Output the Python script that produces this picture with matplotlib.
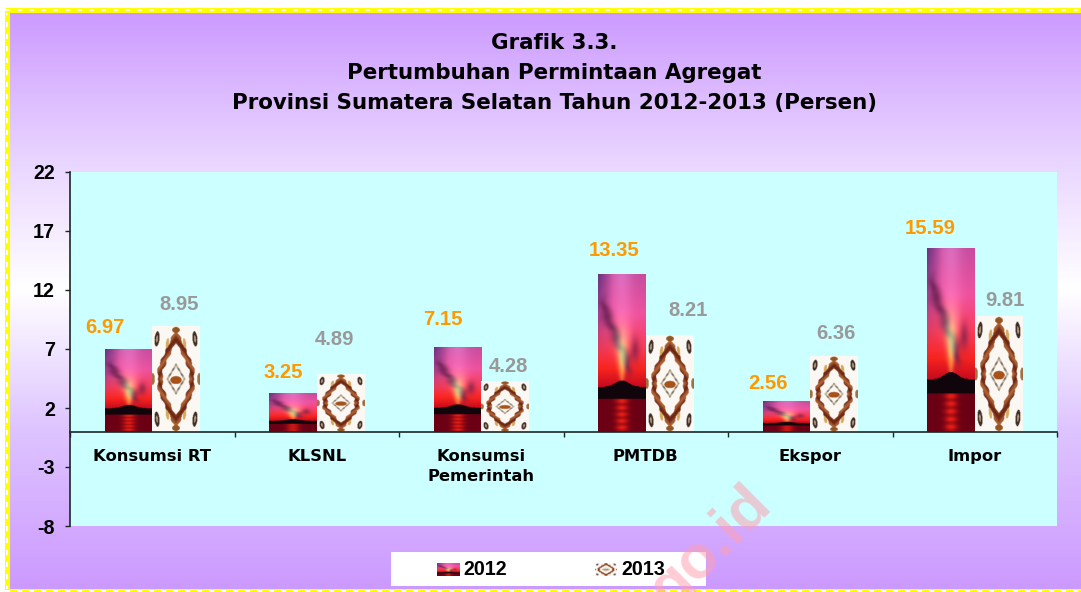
import numpy as np
import matplotlib
matplotlib.use('Agg')
import matplotlib.pyplot as plt
from matplotlib.lines import Line2D
from matplotlib.patches import Rectangle

categories = ['Konsumsi RT', 'KLSNL', 'Konsumsi\nPemerintah', 'PMTDB', 'Ekspor', 'Impor']
values_2012 = [6.97, 3.25, 7.15, 13.35, 2.56, 15.59]
values_2013 = [8.95, 4.89, 4.28, 8.21, 6.36, 9.81]
y_ticks = [-8, -3, 2, 7, 12, 17, 22]
title = 'Grafik 3.3.\nPertumbuhan Permintaan Agregat\nProvinsi Sumatera Selatan Tahun 2012-2013 (Persen)'

# label offsets from the top centre of each bar, in pixels
nudge_2012 = [(-23, 22), (-10, 21), (-15, 28), (-8, 24), (-18, 18), (-21, 19)]
nudge_2013 = [(3, 21), (-6, 34), (3, 15), (18, 24), (2, 23), (6, 15)]

W, H = 1081, 592
px = 72 / 100


def gauss(d, s):
    return np.exp(-(d / s) ** 2)


def sunset_texture():
    t, u = np.mgrid[0:1:200j, 0:1:70j]
    stops = np.array([0, .25, .45, .6, .7])
    cols = np.array([[.78, .30, .62], [.93, .32, .62], [.98, .24, .36], [.97, .14, .12], [.80, .05, .12]])
    img = np.dstack([np.interp(t, stops, cols[:, i]) for i in range(3)])
    # purple corner top left, lighter beam in the middle
    edge = np.clip(1 - u * 3.2, 0, 1) * np.clip(1 - t * 1.8, 0, 1)
    img = img * (1 - edge[..., None]) + np.array([.42, .2, .5]) * edge[..., None]
    beam = .25 * gauss(u - .5, .22) * np.clip(1 - t * 1.6, 0, 1)
    img = img + beam[..., None] * np.array([.3, .5, .5])
    # dark cloud running down the sky, wobbly edge
    s = np.clip(((u - .12) * .5 + (t - .22) * .35) / (.5 ** 2 + .35 ** 2), 0, 1)
    dist = np.hypot(u - (.12 + .5 * s) + .03 * np.sin(t * 47), (t - (.22 + .35 * s)) * 1.3)
    cloud = .85 * gauss(dist, .085)
    img = img * (1 - cloud[..., None]) + np.array([.42, .12, .32]) * cloud[..., None]
    c2 = .7 * gauss(np.hypot(u - .78, (t - .48) * 1.2), .09)
    img = img * (1 - c2[..., None]) + np.array([.5, .12, .3]) * c2[..., None]
    # glow above the hill
    glow = gauss(u - .5, .05 + .35 * (.68 - t).clip(0)) * gauss(t - .52, .16)
    img = img + glow[..., None] * np.array([.2, .6, .2])
    # water
    water = t > .79
    wat = np.array([.42, .0, .08]) * np.ones(img.shape)
    streak = gauss(u - .5, .13) * (.75 + .25 * np.sin(t * 150))
    wat = wat + streak[..., None] * np.array([.5, .12, .0])
    img[water] = wat[water]
    # hill and its dark band
    top = .715 - .04 * gauss(u - .5, .2)
    hill = (t > top) & ~water
    img[hill] = np.array([.06, .02, .04])
    return np.clip(img, 0, 1)


def blob(x, y, cx, cy, sx, sy, ang=0.0):
    c, s = np.cos(ang), np.sin(ang)
    a = (x - cx) * c + (y - cy) * s
    b = -(x - cx) * s + (y - cy) * c
    return (a / sx) ** 2 + (b / sy) ** 2 < 1


def batik_texture():
    v, u = np.mgrid[-1:1:240j, -1:1:90j]
    au, av = np.abs(u), np.abs(v)
    img = np.ones(u.shape + (3,)) * np.array([.985, .975, .955])
    # outer diamond of wings, flattened at the sides
    d = np.maximum(au / .72, au / .92 + av / .90)
    d = d + .035 * np.sin(av * 30)
    ring = np.abs(d - .93) < .14
    tone = .5 + .5 * np.sin(av * 23 + au * 13)
    brown = np.array([.42, .15, .08])[None, None] * (1 - tone[..., None]) + np.array([.68, .38, .2])[None, None] * tone[..., None]
    img[ring] = brown[ring]
    # pale wing tips inside the ring
    img[blob(au, av, .36, .68, .06, .10, .5)] = np.array([.84, .66, .36])
    # inner small ring
    d2 = au / .36 + av / .27
    inner = np.abs(d2 - 1) < .13
    tone2 = .5 + .5 * np.sin(av * 60)
    img[inner] = (np.array([.45, .42, .4])[None, None] * (1 - tone2[..., None]) + np.array([.8, .72, .6])[None, None] * tone2[..., None])[inner]
    img[blob(au, v, 0, .02, .24, .075)] = np.array([.66, .32, .1])
    # moths in the corners, top and bottom, on the sides
    img[blob(au, av, .80, .76, .10, .15, .35)] = np.array([.25, .18, .15])
    img[blob(au, av, .80, .76, .04, .07, .35)] = np.array([.72, .62, .5])
    img[blob(au, av, 0, .93, .16, .055)] = np.array([.58, .34, .14])
    img[blob(au, av, .98, 0, .09, .11)] = np.array([.62, .44, .26])
    return img


sunset = sunset_texture()
batik = batik_texture()

fig = plt.figure(figsize=(W / 100, H / 100), dpi=100, facecolor='white')

# page background, vertical purple fade
bg = fig.add_axes([5 / W, 0, 1 - 5 / W, 1 - 9 / H], zorder=-1)
r = np.linspace(0, 1, 300)
stops = [0, .25, .48, .72, 1]
shades = np.array([[.80, .60, 1], [.91, .83, 1], [1, 1, 1], [.87, .77, 1], [.80, .60, 1]])
grad = np.dstack([np.interp(r, stops, shades[:, i]) for i in range(3)]).reshape(300, 1, 3)
bg.imshow(grad, aspect='auto')
bg.axis('off')

# dotted yellow page border
for xs, ys in [([7.5, 7.5], [9.5, H]), ([5, W], [9.5, 9.5]), ([5, W], [H - 1, H - 1])]:
    xf = [a / W for a in xs]
    yf = [1 - a / H for a in ys]
    fig.add_artist(Line2D(xf, yf, color='#FFFF00', lw=5 * px, solid_capstyle='butt'))
    fig.add_artist(Line2D(xf, yf, color='white', lw=2 * px, ls=(0, (2.5, 3.5))))

ax = fig.add_axes([70 / W, 1 - 526 / H, (1057 - 70) / W, (526 - 172) / H], facecolor='#CCFFFF')

x = np.arange(len(categories)) + .5
bw = .29
bars_2012 = ax.bar(x - bw / 2, values_2012, bw, color='none')
bars_2013 = ax.bar(x + bw / 2, values_2013, bw, color='none')

for bars, tex, nudges, col, vals in [(bars_2012, sunset, nudge_2012, '#FF9900', values_2012),
                                     (bars_2013, batik, nudge_2013, '#999999', values_2013)]:
    for b, n, v in zip(bars, nudges, vals):
        ax.imshow(tex, extent=(b.get_x(), b.get_x() + b.get_width(), 0, b.get_height()),
                  aspect='auto', interpolation='bilinear', zorder=2)
        ax.annotate('%.2f' % v, (b.get_x() + b.get_width() / 2, b.get_height()),
                    xytext=(n[0] * px, n[1] * px), textcoords='offset points',
                    ha='center', va='center', color=col, fontsize=14.6,
                    fontweight='bold', family='Liberation Sans')

ax.set_xlim(0, 6)
ax.set_ylim(-8, 22)
ax.spines['top'].set_visible(False)
ax.spines['right'].set_visible(False)
ax.spines['bottom'].set_position(('data', 0))
ax.spines['bottom'].set_linewidth(1.2)
ax.spines['left'].set_linewidth(1.2)
ax.spines['bottom'].set_color('#1c2626')
ax.spines['left'].set_color('#1c2626')

ax.set_yticks(y_ticks)
ax.set_yticklabels([str(t) for t in y_ticks], fontsize=14.2, fontweight='bold', family='Liberation Sans')
ax.tick_params(axis='y', length=3.8, width=1, color='#1c2626', pad=7)
ax.set_xticks(range(7))
ax.set_xticklabels([])
ax.tick_params(axis='x', which='major', direction='out', length=3.8, width=1, color='#1c2626')
ax.set_xticks(x, minor=True)
ax.set_xticklabels(categories, minor=True, fontsize=11.8, fontweight='bold', family='DejaVu Sans', linespacing=1.45)
ax.tick_params(axis='x', which='minor', length=0, pad=12.5)

fig.text(554 / W, 1 - 73 / H, title, ha='center', va='center', fontsize=15.4, fontweight='bold',
         family='DejaVu Sans', linespacing=1.6)

# legend box
fig.add_artist(Rectangle((391 / W, 1 - 586 / H), 315 / W, 34 / H, transform=fig.transFigure,
                         facecolor='white', edgecolor='none', zorder=3))
for tex, left, lab, tx in [(sunset, 437, '2012', 463), (batik, 595, '2013', 621)]:
    sw = fig.add_axes([left / W, 1 - 576 / H, 22 / W, 13 / H], zorder=4)
    sw.imshow(tex, aspect='auto', interpolation='bilinear')
    sw.axis('off')
    fig.text(tx / W, 1 - 569.5 / H, lab, ha='left', va='center', fontsize=14.2, fontweight='bold',
             family='Liberation Sans', zorder=5)

# watermark, runs off the bottom edge like in the source page
fig.text(773 / W, 1 - 507 / H, 'go.id', rotation=45, rotation_mode='anchor', ha='right', va='baseline',
         fontsize=44, fontweight='bold', family='Liberation Sans', color='#FFA0B0', alpha=.55, zorder=6)

fig.savefig('out.png', dpi=100)
